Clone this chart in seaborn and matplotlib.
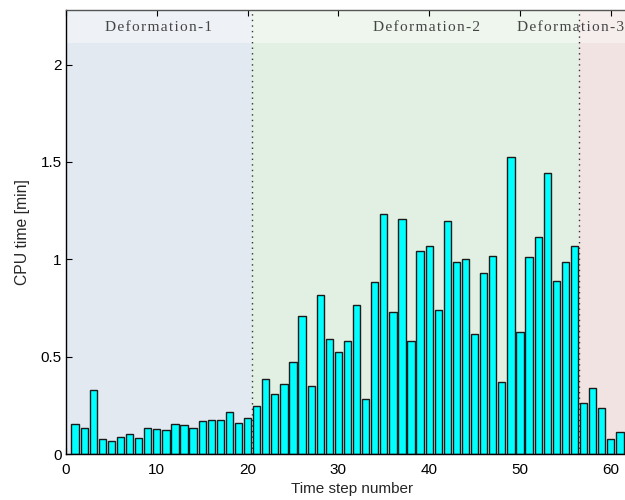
import matplotlib
matplotlib.use("Agg")
import matplotlib.pyplot as plt
import seaborn as sns
import numpy as np
import pandas as pd

# CPU time per time step
steps = list(range(1, 62))
cpu_min = [
    0.155, 0.133, 0.328, 0.075, 0.068, 0.087, 0.103, 0.081, 0.133, 0.128,
    0.121, 0.154, 0.147, 0.133, 0.169, 0.174, 0.174, 0.215, 0.157, 0.184,
    0.244, 0.386, 0.310, 0.358, 0.473, 0.709, 0.349, 0.818, 0.592, 0.526,
    0.578, 0.765, 0.285, 0.885, 1.232, 0.730, 1.206, 0.578, 1.044, 1.069,
    0.742, 1.196, 0.986, 0.999, 0.618, 0.930, 1.018, 0.368, 1.526, 0.625,
    1.011, 1.112, 1.445, 0.889, 0.986, 1.068, 0.264, 0.337, 0.238, 0.075,
    0.114,
]

# deformation phases: label, start, end, body colour, header colour, label x
phase_names = ["Deformation-1", "Deformation-2", "Deformation-3"]
phase_start = [0.0, 20.5, 56.5]
phase_end = [20.5, 56.5, 63.0]
phase_body = ["#E2E9F1", "#E1F0E2", "#F1E3E2"]
phase_head = ["#EEF2F6", "#EEF6EE", "#F6EEED"]
phase_label_x = [10.2, 39.7, 55.6]


def spaced(text):
    # widen the tracking of a label with hair spaces between letters
    return "\u200a".join(text)


df = pd.DataFrame({"step": steps, "cpu": cpu_min})

sns.set_theme(style="white")
plt.rcParams["font.family"] = ["Liberation Sans", "DejaVu Sans"]

fig = plt.figure(figsize=(6.25, 5.0), dpi=100)
xmax = 63.0
ymax = 2.28
head_y = 2.11
px_per_unit = 9.08
ax = fig.add_axes([66 / 625, 46 / 500, xmax * px_per_unit / 625, 444 / 500])

for s, e, cb, ch in zip(phase_start, phase_end, phase_body, phase_head):
    ax.axvspan(s, e, ymin=0, ymax=head_y / ymax, color=cb, lw=0, zorder=0)
    ax.axvspan(s, e, ymin=head_y / ymax, ymax=1, color=ch, lw=0, zorder=0)

sns.barplot(data=df, x="step", y="cpu", native_scale=True, width=0.8,
            color="#00FFFF", saturation=1, edgecolor="#1a1a1a", linewidth=1.0,
            ax=ax, zorder=2)

for b in phase_start[1:]:
    ax.axvline(b, color="#333333", ls=(0, (1, 3)), lw=1.0, zorder=3)

for name, lx in zip(phase_names, phase_label_x):
    ax.text(lx, (head_y + ymax) / 2 - 0.005, spaced(name), ha="center",
            va="center", fontsize=11.1, color="#444444",
            family=["Liberation Serif", "DejaVu Serif"], zorder=4)

ax.set_xlim(0, xmax)
ax.set_ylim(0, ymax)
ax.set_xticks(np.arange(0, 61, 10))
ax.set_yticks([0, 0.5, 1, 1.5, 2])
ax.set_yticklabels(["0", "0.5", "1", "1.5", "2"])
ax.set_xlabel("Time step number", fontsize=11, labelpad=3.5)
ax.set_ylabel("CPU time [min]", fontsize=11.3, labelpad=8)
ax.tick_params(direction="in", length=4, width=0.8, labelsize=11,
               colors="#000000", top=True, left=True, bottom=True)
ax.tick_params(axis="y", pad=3)
ax.tick_params(axis="x", top=True, labeltop=False, pad=6.5)
for side in ["left", "bottom"]:
    ax.spines[side].set_color("#000000")
    ax.spines[side].set_linewidth(1.0)
ax.spines["top"].set_color("#555555")
ax.spines["top"].set_linewidth(1.0)
ax.spines["right"].set_visible(False)
ax.set_facecolor("white")

fig.savefig("out.png", dpi=100)
